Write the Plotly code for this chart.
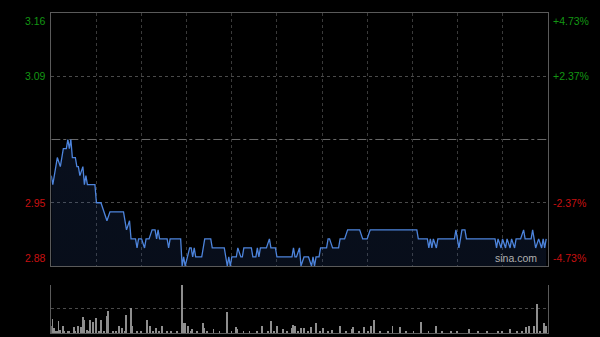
import plotly.graph_objects as go

# ---- data (HK intraday, minute index from open, 330 trading minutes) ----
prev_close = 3.02
left_ticks = [3.16, 3.09, 2.95, 2.88]
right_ticks = ["+4.73%", "+2.37%", "-2.37%", "-4.73%"]

price_minute = [0, 1, 4, 6, 8, 10, 11, 12, 13, 14, 16, 17, 18, 19, 21, 22, 23, 24, 29, 30,
                33, 35, 37, 39, 48, 50, 52, 53, 56, 57, 58, 60, 62, 63, 65, 67, 69, 70, 71, 72,
                77, 78, 79, 86, 87, 88, 89, 92, 93, 94, 95, 96, 100, 102, 106, 107, 115, 117, 118, 119,
                120, 123, 124, 126, 127, 128, 133, 134, 136, 137, 138, 139, 143, 145, 146, 149, 150, 160, 161, 162,
                163, 165, 166, 168, 171, 173, 174, 175, 176, 178, 179, 183, 184, 185, 187, 191, 192, 195, 197, 205,
                207, 210, 212, 243, 244, 250, 251, 252, 253, 254, 256, 257, 268, 269, 270, 271, 272, 273, 275, 276,
                295, 296, 297, 299, 300, 302, 303, 305, 306, 308, 309, 312, 314, 315, 319, 320, 321, 322, 324, 326,
                327, 328, 329]
price = [2.98, 2.97, 3.00, 2.99, 3.01, 3.01, 3.02, 3.01, 3.02, 3.00, 3.00, 2.99, 2.99, 2.98, 2.99, 2.97, 2.98, 2.97, 2.97, 2.95,
         2.95, 2.94, 2.93, 2.94, 2.94, 2.92, 2.93, 2.91, 2.91, 2.90, 2.91, 2.91, 2.90, 2.91, 2.91, 2.92, 2.92, 2.91, 2.92, 2.91,
         2.91, 2.90, 2.91, 2.91, 2.88, 2.89, 2.88, 2.90, 2.90, 2.89, 2.90, 2.89, 2.89, 2.91, 2.91, 2.90, 2.90, 2.88, 2.89, 2.88,
         2.89, 2.89, 2.90, 2.89, 2.89, 2.90, 2.90, 2.89, 2.89, 2.90, 2.89, 2.90, 2.90, 2.91, 2.90, 2.90, 2.89, 2.89, 2.90, 2.89,
         2.89, 2.90, 2.88, 2.89, 2.89, 2.88, 2.89, 2.88, 2.89, 2.89, 2.90, 2.90, 2.91, 2.91, 2.90, 2.90, 2.91, 2.91, 2.92, 2.92,
         2.91, 2.91, 2.92, 2.92, 2.91, 2.91, 2.90, 2.91, 2.90, 2.91, 2.90, 2.91, 2.91, 2.92, 2.91, 2.90, 2.91, 2.92, 2.92, 2.91,
         2.91, 2.90, 2.91, 2.90, 2.91, 2.90, 2.91, 2.90, 2.91, 2.90, 2.91, 2.91, 2.92, 2.91, 2.91, 2.92, 2.91, 2.90, 2.91, 2.90,
         2.91, 2.90, 2.91]

# relative volume (% of the session's largest minute)
vol_minute = [0, 1, 2, 5, 8, 15, 18, 20, 21, 22, 26, 28, 30, 33, 37, 38, 45, 47, 50, 53,
              54, 64, 66, 70, 74, 87, 88, 89, 91, 94, 101, 102, 108, 117, 123, 124, 140, 146, 150, 154,
              160, 161, 162, 166, 168, 173, 176, 181, 187, 192, 200, 201, 208, 213, 215, 227, 232, 246, 256, 278,
              305, 316, 318, 321, 323, 328, 329]
vol_pct = [15, 29, 10, 24, 14, 13, 15, 12, 34, 28, 28, 22, 31, 28, 35, 46, 14, 10, 38, 52,
           14, 28, 15, 10, 14, 100, 21, 21, 15, 8, 21, 10, 8, 43, 12, 8, 14, 26, 15, 8,
           10, 17, 14, 10, 10, 12, 21, 10, 6, 14, 8, 12, 12, 14, 28, 15, 12, 23, 14, 8,
           8, 12, 14, 14, 61, 21, 14]
small_minute = [3, 4, 6, 9, 11, 12, 16, 24, 25, 32, 35, 41, 43, 49, 57, 60, 68, 72, 77, 80,
                84, 93, 97, 104, 112, 120, 128, 132, 137, 144, 148, 157, 164, 171, 179, 184, 196, 205, 211, 219,
                224, 236, 241, 251, 260, 266, 270, 284, 290, 297, 300, 310, 313, 325]
small_pct = [5, 3, 6, 4, 3, 5, 4, 6, 3, 4, 5, 3, 4, 3, 4, 3, 5, 3, 4, 3,
             4, 3, 5, 3, 4, 3, 4, 3, 5, 3, 4, 3, 4, 3, 4, 3, 4, 3, 4, 3,
             3, 4, 3, 4, 3, 4, 3, 3, 4, 3, 4, 3, 4, 5]

grid_minutes = [30, 60, 90, 120, 150, 180, 210, 240, 270, 300]

# ---- figure ----
X0, X1 = 0.0855, 0.9128
GREEN, RED = "#139613", "#c81010"
FONT = "Liberation Sans, Arial, sans-serif"

fig = go.Figure()
fig.add_trace(go.Scatter(
    x=price_minute, y=price, mode="lines",
    line=dict(color="#4d84dc", width=1.3),
    fill="tozeroy",
    fillgradient=dict(type="vertical",
                      colorscale=[[0, "rgba(0,0,0,0)"], [1, "rgba(50,90,170,0.17)"]]),
    xaxis="x", yaxis="y", hoverinfo="skip", showlegend=False))
fig.add_trace(go.Bar(
    x=vol_minute + small_minute, y=vol_pct + small_pct, width=0.6,
    marker=dict(color="#8e8e8e", line=dict(width=0)),
    xaxis="x2", yaxis="y2", hoverinfo="skip", showlegend=False))

fig.update_layout(
    width=600, height=337, margin=dict(l=0, r=0, t=0, b=0),
    paper_bgcolor="#000000", plot_bgcolor="#000000",
    font=dict(family=FONT, size=10, color="#cccccc"),
    bargap=0,
    xaxis=dict(domain=[X0, X1], range=[0, 330], showticklabels=False, ticks="",
               tickvals=grid_minutes, showgrid=True, gridcolor="#3a3a3a", griddash="dot", gridwidth=1,
               showline=True, mirror=True, linecolor="#5a5a5a", linewidth=1, zeroline=False,
               anchor="y"),
    yaxis=dict(domain=[0.2107, 0.9614], range=[2.88, 3.16], showticklabels=False, ticks="",
               tickvals=[2.95, 3.09], showgrid=True, gridcolor="#4a4a4a", griddash="dot", gridwidth=1,
               showline=True, mirror=True, linecolor="#5a5a5a", linewidth=1, zeroline=False,
               anchor="x"),
    xaxis2=dict(domain=[X0, X1], range=[0, 330], showticklabels=False, ticks="",
                showgrid=False, showline=True, mirror=False, linecolor="#5a5a5a", linewidth=1,
                zeroline=False, anchor="y2"),
    yaxis2=dict(domain=[0.0119, 0.1543], range=[0, 100], showticklabels=False, ticks="",
                tickvals=[50, 100], showgrid=True, gridcolor="#4a4a4a", griddash="dot", gridwidth=1,
                showline=True, mirror=True, linecolor="#5a5a5a", linewidth=1, zeroline=False,
                anchor="x2"),
)

# previous-close reference line
fig.add_shape(type="line", xref="x", yref="y", x0=0, x1=330, y0=prev_close, y1=prev_close,
              line=dict(color="#6a6a6a", width=1, dash="dashdot"), layer="below")

# axis labels
for val, pct in zip(left_ticks, right_ticks):
    col = GREEN if val > prev_close else RED
    if val == left_ticks[0]:
        ya = "top"
    elif val == left_ticks[-1]:
        ya = "bottom"
    else:
        ya = "middle"
    fig.add_annotation(x=X0 - 0.005, xref="paper", y=val, yref="y", text=f"{val:.2f}",
                       showarrow=False, xanchor="right", yanchor=ya,
                       font=dict(color=col, size=10.5, family=FONT))
    fig.add_annotation(x=X1 + 0.006, xref="paper", y=val, yref="y", text=pct,
                       showarrow=False, xanchor="left", yanchor=ya,
                       font=dict(color=col, size=10.5, family=FONT))

fig.add_annotation(x=X1 - 0.015, xref="paper", y=2.88, yref="y", text="sina.com",
                   showarrow=False, xanchor="right", yanchor="bottom",
                   font=dict(color="#b0b0b0", size=10.5, family=FONT))

fig.write_html("out.html")
